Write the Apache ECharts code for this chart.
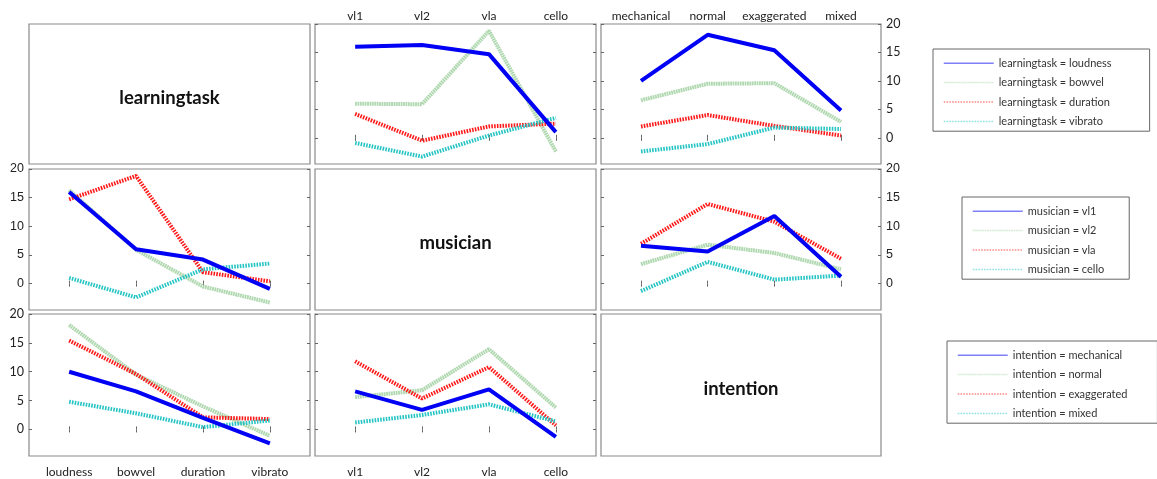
<!DOCTYPE html>
<html>
<head>
<meta charset="utf-8">
<script src="https://cdn.jsdelivr.net/npm/echarts@6/dist/echarts.min.js"></script>
<style>
html,body{margin:0;padding:0;background:#fff;}
#chart{width:1157px;height:479px;}
</style>
</head>
<body>
<div id="chart"></div>
<script>
// Factor levels (also the tick labels)
const learningtask = ['loudness', 'bowvel', 'duration', 'vibrato'];
const musician = ['vl1', 'vl2', 'vla', 'cello'];
const intention = ['mechanical', 'normal', 'exaggerated', 'mixed'];
const factorNames = ['learningtask', 'musician', 'intention'];
const yTicks = [0, 5, 10, 15, 20];
const xTicks = [1, 2, 3, 4];

// Cell means, rows = learningtask, columns = musician
const taskByMusician = [
  [16.0, 16.3, 14.7, 1.0],
  [6.0, 5.9, 18.8, -2.4],
  [4.2, -0.5, 2.0, 2.5],
  [-0.9, -3.3, 0.4, 3.5]
];
// rows = learningtask, columns = intention
const taskByIntention = [
  [10.0, 18.1, 15.4, 4.8],
  [6.6, 9.5, 9.6, 2.8],
  [2.0, 4.0, 2.1, 0.4],
  [-2.4, -1.1, 1.8, 1.55]
];
// rows = musician, columns = intention
const musicianByIntention = [
  [6.6, 5.6, 11.8, 1.2],
  [3.4, 6.8, 5.35, 2.5],
  [6.95, 13.9, 10.8, 4.35],
  [-1.3, 3.8, 0.7, 1.4]
];

const levels = [learningtask, musician, intention];
function transpose(m) { return m[0].map((_, j) => m.map(row => row[j])); }
// matrices[r_c]: rows -> lines grouped by factor r, columns -> x positions (factor c)
const matrices = {
  '0_1': taskByMusician,
  '0_2': taskByIntention,
  '1_0': transpose(taskByMusician),
  '1_2': musicianByIntention,
  '2_0': transpose(taskByIntention),
  '2_1': transpose(musicianByIntention)
};

const lineStyles = [
  { color: '#0000f5', type: 'solid', z: 5 },
  { color: '#b0d8b0', type: [1.8, 0.6], z: 2 },
  { color: '#ff1a1a', type: [1.6, 1.2], z: 3 },
  { color: '#26c4c4', type: [1.6, 1.2], z: 4 }
];

const colLeft = [29, 315, 601];
const colWidth = [281, 281, 280];
const rowTop = [24, 169, 314];
const rowHeight = [140, 141, 142];
const yMin = -4.6, yMax = 20;

const calibri = 'Lato, "Open Sans", sans-serif';
const arial = '"Liberation Sans", Arial, sans-serif';

const grid = [], xAxis = [], yAxis = [], series = [], graphic = [];
for (let r = 0; r < 3; r++) {
  for (let c = 0; c < 3; c++) {
    const g = r * 3 + c;
    grid.push({ left: colLeft[c], top: rowTop[r], width: colWidth[c], height: rowHeight[r],
      show: true, borderColor: '#8a8a8a', borderWidth: 1.2, backgroundColor: '#fff' });
    const diag = r === c;
    const cats = levels[c];
    const tickBase = { show: !diag, inside: true, length: 3, lineStyle: { color: '#666', width: 1 } };
    ['bottom', 'top'].forEach(pos => {
      const showLab = !diag && ((pos === 'bottom' && r === 2) || (pos === 'top' && r === 0));
      xAxis.push({
        gridIndex: g, type: 'value', min: 0.4, max: 4.6, position: pos, show: !diag,
        axisLine: { show: false }, splitLine: { show: false },
        axisTick: Object.assign({ customValues: xTicks }, tickBase),
        axisLabel: { show: showLab, customValues: xTicks, formatter: v => cats[Math.round(v) - 1],
          margin: pos === 'bottom' ? 10 : 2, fontFamily: calibri, fontSize: 12, color: '#222' }
      });
    });
    ['left', 'right'].forEach(pos => {
      const showLab = !diag && ((pos === 'left' && c === 0) || (pos === 'right' && c === 2));
      const fam = (r === 2 || (r === 0 && pos === 'right')) ? calibri : arial;
      yAxis.push({
        gridIndex: g, type: 'value', min: yMin, max: yMax, position: pos, show: !diag,
        axisLine: { show: false }, splitLine: { show: false },
        axisTick: Object.assign({ customValues: yTicks }, tickBase),
        axisLabel: { show: showLab, customValues: yTicks, margin: 5,
          fontFamily: fam, fontSize: 12.5, color: '#222' }
      });
    });
    if (diag) {
      graphic.push({
        type: 'text', x: colLeft[c] + colWidth[c] / 2, y: rowTop[r] + rowHeight[r] / 2 + 4,
        style: { text: factorNames[r], font: 'bold 18.5px ' + calibri, fill: '#111',
          align: 'center', verticalAlign: 'middle' }
      });
    } else {
      const m = matrices[r + '_' + c];
      m.forEach((vals, k) => {
        const st = lineStyles[k];
        series.push({
          type: 'line', name: factorNames[r] + ' = ' + levels[r][k],
          xAxisIndex: 2 * g, yAxisIndex: 2 * g, z: st.z,
          symbol: 'none', animation: false, silent: true,
          data: vals.map((v, i) => [xTicks[i], v]),
          lineStyle: { color: st.color, width: 4, type: st.type },
          itemStyle: { color: st.color }
        });
      });
    }
  }
}

function legendFor(r, left, top, padRight) {
  return {
    orient: 'vertical', left: left, top: top,
    data: levels[r].map(l => factorNames[r] + ' = ' + l),
    itemWidth: 50, itemHeight: 10, itemGap: 8.4,
    padding: [8.7, padRight, 4.3, 10],
    borderColor: '#666', borderWidth: 1, backgroundColor: '#fff',
    selectedMode: false,
    textStyle: { fontFamily: calibri, fontSize: 11, color: '#333' },
    itemStyle: { opacity: 0 },
    lineStyle: { width: 1.5, opacity: 0.5 }
  };
}

const option = {
  backgroundColor: '#fff',
  animation: false,
  grid, xAxis, yAxis, series, graphic,
  legend: [
    legendFor(0, 933, 49, 38),
    legendFor(1, 962, 197, 25),
    legendFor(2, 947, 341, 30)
  ]
};

const chart = echarts.init(document.getElementById('chart'), null, { renderer: 'canvas' });
chart.setOption(option);
</script>
</body>
</html>
